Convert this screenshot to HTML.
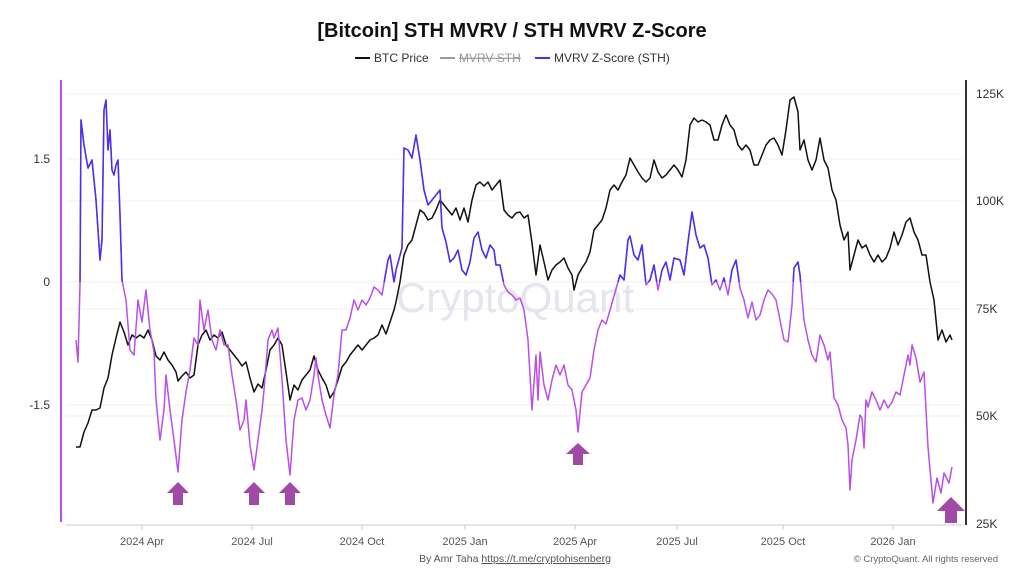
<!DOCTYPE html>
<html><head><meta charset="utf-8"><style>
body{margin:0;background:#fff;width:1024px;height:576px;overflow:hidden;font-family:"Liberation Sans",sans-serif}
</style></head><body>
<svg width="1024" height="576" viewBox="0 0 1024 576" xmlns="http://www.w3.org/2000/svg" xmlns:xlink="http://www.w3.org/1999/xlink" font-family="Liberation Sans, sans-serif">
<text x="512" y="37" text-anchor="middle" font-size="20" font-weight="bold" fill="#111">[Bitcoin] STH MVRV / STH MVRV Z-Score</text>
<g font-size="12" fill="#333">
<line x1="355" y1="58" x2="370" y2="58" stroke="#111" stroke-width="2"/><text x="374" y="62">BTC Price</text>
<line x1="440" y1="58" x2="455" y2="58" stroke="#999" stroke-width="2"/><text x="459" y="62" fill="#999" text-decoration="line-through">MVRV STH</text>
<line x1="535" y1="58" x2="550" y2="58" stroke="#4b2ef0" stroke-width="2"/><text x="554" y="62">MVRV Z-Score (STH)</text>
</g>
<g stroke="#f2f2f2" stroke-width="1">
<line x1="66" y1="94" x2="962" y2="94"/><line x1="66" y1="201" x2="962" y2="201"/><line x1="66" y1="309" x2="962" y2="309"/><line x1="66" y1="416" x2="962" y2="416"/>
<line x1="66" y1="159" x2="962" y2="159"/><line x1="66" y1="282" x2="962" y2="282"/><line x1="66" y1="405" x2="962" y2="405"/>
</g>
<text x="515" y="312" text-anchor="middle" font-size="42" fill="#e6e4ec">CryptoQuant</text>
<line x1="61" y1="80" x2="61" y2="522" stroke="#b94fe8" stroke-width="2"/>
<line x1="966" y1="80" x2="966" y2="525" stroke="#333" stroke-width="2"/>
<line x1="66" y1="525" x2="962" y2="525" stroke="#ccc" stroke-width="1"/>
<g stroke="#ccc"><line x1="142" y1="525" x2="142" y2="530"/><line x1="252" y1="525" x2="252" y2="530"/><line x1="362" y1="525" x2="362" y2="530"/><line x1="465" y1="525" x2="465" y2="530"/><line x1="575" y1="525" x2="575" y2="530"/><line x1="677" y1="525" x2="677" y2="530"/><line x1="783" y1="525" x2="783" y2="530"/><line x1="893" y1="525" x2="893" y2="530"/></g>
<g font-size="11" fill="#555" text-anchor="middle"><text x="142" y="545">2024 Apr</text><text x="252" y="545">2024 Jul</text><text x="362" y="545">2024 Oct</text><text x="465" y="545">2025 Jan</text><text x="575" y="545">2025 Apr</text><text x="677" y="545">2025 Jul</text><text x="783" y="545">2025 Oct</text><text x="893" y="545">2026 Jan</text></g>
<g font-size="12" fill="#333" text-anchor="end"><text x="50" y="163">1.5</text><text x="50" y="286">0</text><text x="50" y="409">-1.5</text></g>
<g font-size="12" fill="#333"><text x="976" y="98">125K</text><text x="976" y="205">100K</text><text x="976" y="313">75K</text><text x="976" y="420">50K</text><text x="976" y="528">25K</text></g>
<defs><clipPath id="up"><rect x="0" y="0" width="1024" height="282"/></clipPath>
<polyline id="zl" fill="none" stroke-width="1.5" stroke-linejoin="round" points="76,340 78,362 80,285 81,120 84,145 88,168 92,160 96,200 100,260 102,240 104,110 106,100 108,150 110,130 112,170 114,175 116,165 118,160 120,215 122,280 126,300 130,350 134,355 138,300 142,322 146,290 150,330 154,352 156,400 160,440 164,410 166,375 170,410 174,440 178,472 182,420 186,392 190,370 194,338 198,345 200,300 204,330 208,310 212,340 216,350 220,330 224,345 228,345 232,375 236,400 240,430 244,420 246,400 250,445 254,470 258,440 262,410 264,390 268,340 272,330 274,338 278,328 282,380 286,440 290,475 294,420 298,400 302,398 306,410 310,400 314,375 316,358 318,375 322,400 326,415 330,428 334,395 338,375 342,330 346,330 350,318 354,300 358,310 362,300 366,305 370,298 374,287 378,290 382,295 388,260 390,255 394,282 396,270 402,248 404,148 408,150 412,158 416,135 420,160 424,190 428,205 432,200 436,195 440,190 442,228 446,242 450,262 454,258 458,250 462,270 466,275 470,262 474,238 478,232 482,250 486,258 490,245 494,250 496,265 500,265 504,285 508,292 512,295 516,300 520,298 524,310 528,340 532,410 536,355 538,400 540,352 544,385 548,400 552,380 556,365 560,375 564,365 568,385 572,390 576,410 578,432 582,392 586,385 590,378 594,350 598,330 602,320 606,324 610,310 614,296 618,282 620,275 624,280 628,240 630,236 634,255 638,260 642,245 646,285 650,280 654,265 658,290 662,270 666,262 670,280 674,258 680,260 684,275 688,242 692,212 696,235 700,248 704,245 708,258 712,285 716,280 720,290 724,278 728,295 732,270 736,260 740,288 744,300 748,318 752,302 756,320 760,315 764,300 768,290 772,294 776,300 780,320 784,340 788,342 792,305 794,268 798,262 800,275 804,320 808,340 812,355 816,362 820,335 824,345 828,360 830,352 834,398 838,405 842,420 846,428 848,445 850,490 852,460 856,440 860,415 862,418 864,448 866,400 868,407 872,392 876,400 880,410 884,400 888,408 892,402 896,392 900,395 904,375 908,355 910,365 912,345 916,358 920,382 924,372 928,447 933,503 937,478 941,493 944,473 949,483 952,467"/>
</defs>
<polyline fill="none" stroke="#111" stroke-width="1.5" stroke-linejoin="round" points="76,447 80,447 84,432 88,423 92,410 96,410 100,408 104,388 108,378 112,355 116,338 120,322 124,332 128,345 132,335 136,338 140,335 144,338 148,330 152,340 156,356 160,360 164,352 168,360 172,365 176,372 178,381 182,376 186,372 190,378 194,375 198,345 202,335 206,330 210,340 214,335 218,338 222,332 226,345 230,350 234,355 238,360 242,366 246,362 250,378 254,392 258,384 262,388 266,370 270,350 274,345 278,338 282,345 286,372 290,400 294,385 298,390 302,380 306,375 310,370 314,356 318,370 322,378 326,385 330,398 334,392 338,380 342,367 346,362 350,355 354,350 358,345 362,350 366,345 370,340 374,338 378,335 382,325 386,334 390,322 394,310 396,302 400,282 404,255 408,245 412,240 416,225 420,210 424,213 428,220 432,218 436,210 440,200 444,205 448,210 452,215 456,208 460,220 464,208 468,222 472,200 476,185 480,182 484,186 488,182 492,190 496,185 500,180 504,210 508,215 512,218 516,213 520,212 524,218 528,215 532,243 536,275 538,260 540,245 544,262 548,280 552,270 556,265 560,262 564,258 568,268 572,275 574,290 578,275 582,268 586,262 590,252 594,230 598,225 602,220 606,208 610,190 614,185 618,190 622,182 626,175 630,158 634,165 638,172 642,178 646,182 650,178 654,160 658,172 662,178 666,175 670,170 674,165 678,170 682,177 686,160 690,125 694,118 698,122 702,120 706,122 710,125 714,140 718,140 722,125 726,115 730,125 734,130 738,145 742,150 746,145 750,150 754,165 758,165 762,155 766,145 770,140 774,138 778,145 782,155 786,130 790,100 794,97 798,112 800,150 804,140 808,160 812,170 816,160 820,138 824,160 828,168 832,190 836,200 840,225 844,240 848,232 850,270 854,255 858,240 862,248 866,245 870,255 874,262 878,255 882,262 886,258 890,248 894,232 898,245 902,235 906,222 910,218 914,232 918,240 922,255 926,255 930,282 934,300 938,340 942,330 946,342 950,335 952,340"/>
<use xlink:href="#zl" href="#zl" stroke="#b94fe8"/>
<use xlink:href="#zl" href="#zl" stroke="#4b2ef0" clip-path="url(#up)"/>
<g fill="#a04aa6">
<path d="M167,493 L178,482 L189,493 L183,493 L183,505 L173,505 L173,493Z"/>
<path d="M243,493 L254,482 L265,493 L259,493 L259,505 L249,505 L249,493Z"/>
<path d="M279,493 L290,482 L301,493 L295,493 L295,505 L285,505 L285,493Z"/>
<path d="M566,454 L578,443 L590,454 L583,454 L583,465 L573,465 L573,454Z"/>
<path d="M937,511 L951,497 L965,511 L957,511 L957,523 L945,523 L945,511Z"/>
</g>
<text x="515" y="562" text-anchor="middle" font-size="10.5" fill="#555">By Amr Taha <tspan text-decoration="underline">https://t.me/cryptohisenberg</tspan></text>
<text x="998" y="562" text-anchor="end" font-size="9.5" fill="#666">© CryptoQuant. All rights reserved</text>
</svg>
</body></html>
